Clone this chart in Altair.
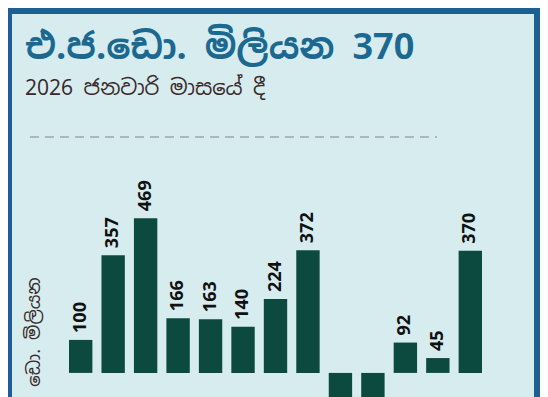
import altair as alt
import pandas as pd

# Data
months = ["2025-01", "2025-02", "2025-03", "2025-04", "2025-05", "2025-06", "2025-07",
          "2025-08", "2025-09", "2025-10", "2025-11", "2025-12", "2026-01"]
values = [100, 357, 469, 166, 163, 140, 224, 372, -95, -95, 92, 45, 370]

title_text = "එ.ජ.ඩො. මිලියන 370"
subtitle_text = "2026 ජනවාරි මාසයේ දී"
y_title_text = "ඩො. මිලියන"

df = pd.DataFrame({"month": months, "value": values})

BG = "#d6ecef"
BORDER = "#1d5f95"
BAR = "#0c4a3f"
TITLE_C = "#1b6991"
TEXT_C = "#3a2828"
SINH = "Noto Sans Sinhala, Noto Sans, DejaVu Sans, sans-serif"

x_enc = alt.X("month:N", sort=months, axis=None,
              scale=alt.Scale(range=[57, 470], paddingInner=0.28, paddingOuter=0))
y_enc = alt.Y("value:Q", axis=None,
              scale=alt.Scale(domain=[-73, 1088], nice=False, zero=True))

base = alt.Chart(df)

bars = base.mark_bar(color=BAR, clip=True).encode(x=x_enc, y=y_enc)

labels = base.transform_filter("datum.value > 0").mark_text(
    angle=270, align="left", baseline="middle", dx=7,
    font="Open Sans", fontWeight="bold", fontSize=18, color="#111111"
).encode(x=x_enc, y=y_enc, text=alt.Text("value:Q"))

title_df = pd.DataFrame({"t": [title_text]})
title = alt.Chart(title_df).mark_text(
    align="left", baseline="alphabetic", font=SINH, fontWeight="bold",
    fontSize=36, color=TITLE_C
).encode(x=alt.value(13), y=alt.value(45), text="t:N")

sub_df = pd.DataFrame({"t": [subtitle_text]})
subtitle = alt.Chart(sub_df).mark_text(
    align="left", baseline="alphabetic", font=SINH, fontSize=21, color=TEXT_C
).encode(x=alt.value(13), y=alt.value(81), text="t:N")

ytitle_df = pd.DataFrame({"t": [y_title_text]})
ytitle = alt.Chart(ytitle_df).mark_text(
    align="center", baseline="middle", angle=270, font=SINH, fontSize=18,
    color=TEXT_C
).encode(x=alt.value(23), y=alt.value(318), text="t:N")

dash = alt.Chart(pd.DataFrame({"a": [0]})).mark_rule(
    color="#9aa6a8", strokeWidth=1.5, strokeDash=[9, 6]
).encode(x=alt.value(18), x2=alt.value(425), y=alt.value(123))

chart = alt.layer(dash, bars, labels, title, subtitle, ytitle).properties(
    width=532, height=389,
    autosize=alt.AutoSizeParams(type="fit", contains="padding"),
    padding={"left": 4, "top": 6, "right": 6, "bottom": 0},
    background=BORDER,
).configure_view(fill=BG, stroke=None)

chart.save("out.html", embed_options={"renderer": "svg", "actions": False})
